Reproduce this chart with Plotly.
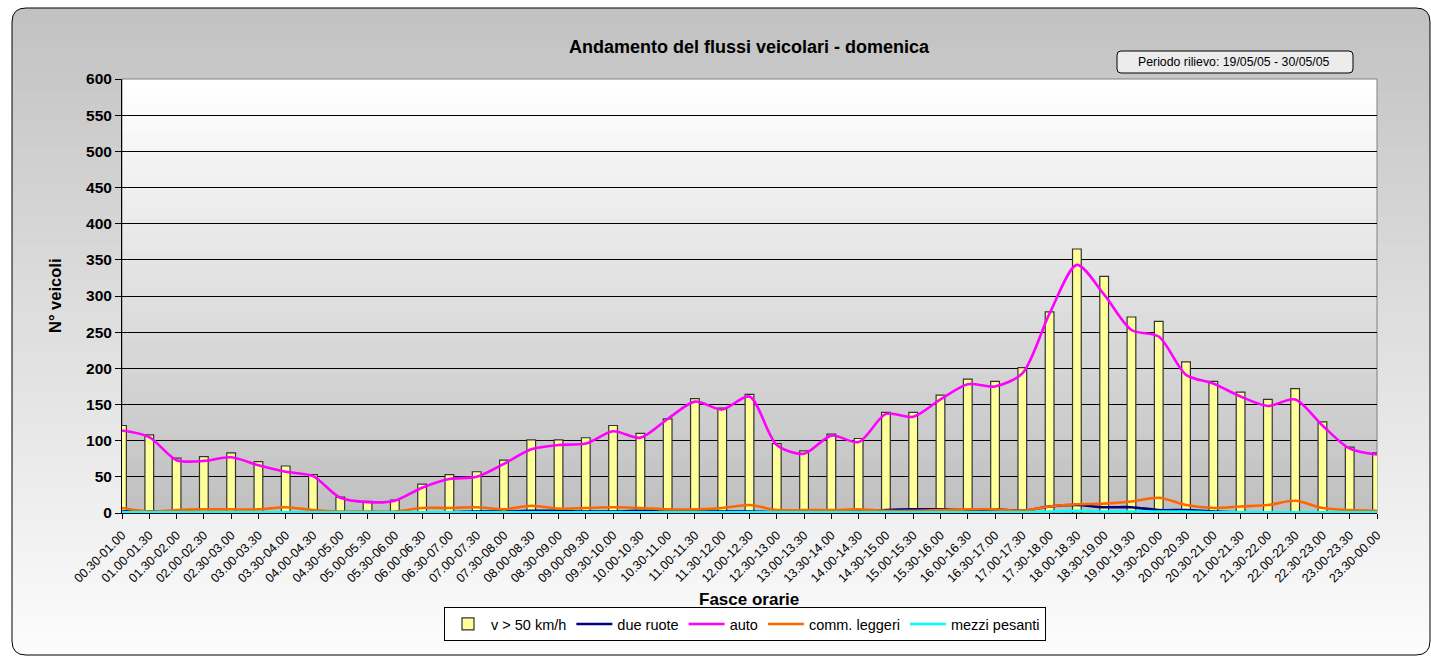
import plotly.graph_objects as go

categories = ["00.30-01.00","01.00-01.30","01.30-02.00","02.00-02.30","02.30-03.00","03.00-03.30",
              "03.30-04.00","04.00-04.30","04.30-05.00","05.00-05.30","05.30-06.00","06.00-06.30",
              "06.30-07.00","07.00-07.30","07.30-08.00","08.00-08.30","08.30-09.00","09.00-09.30",
              "09.30-10.00","10.00-10.30","10.30-11.00","11.00-11.30","11.30-12.00","12.00-12.30",
              "12.30-13.00","13.00-13.30","13.30-14.00","14.00-14.30","14.30-15.00","15.00-15.30",
              "15.30-16.00","16.00-16.30","16.30-17.00","17.00-17.30","17.30-18.00","18.00-18.30",
              "18.30-19.00","19.00-19.30","19.30-20.00","20.00-20.30","20.30-21.00","21.00-21.30",
              "21.30-22.00","22.00-22.30","22.30-23.00","23.00-23.30","23.30-00.00"]

v_over_50 = [121,108,76,78,83,71,65,53,22,16,18,40,53,57,73,101,101,104,121,110,130,158,145,164,
             96,86,109,103,139,139,163,185,182,201,278,365,327,271,265,209,182,167,157,172,126,91,83]
due_ruote = [2,2,1,1,1,1,1,1,0,0,0,1,1,2,2,3,3,2,2,3,2,2,2,2,1,1,1,2,4,5,5,4,5,3,9,11,8,8,4,4,
             2,1,1,1,1,1,1]
auto = [114,105,73,72,77,66,57,51,21,15,17,35,47,50,68,88,94,96,113,104,130,154,143,161,94,82,
        107,98,137,133,157,178,175,193,276,343,302,253,244,191,179,161,148,157,121,89,81]
comm_leggeri = [7,2,4,5,5,5,8,4,2,2,2,7,7,8,5,10,6,7,8,7,5,5,7,11,4,4,4,5,3,3,4,5,5,3,9,12,13,
                16,21,11,7,9,11,17,7,4,3]
mezzi_pesanti = [1,1,1,1,1,1,1,1,1,1,1,1,1,1,1,1,1,1,1,1,1,1,1,1,1,1,1,1,1,1,1,1,1,1,2,3,2,2,
                 2,2,1,1,1,1,1,1,1]

y_ticks = list(range(0, 601, 50))

W, H = 1431, 656
PL, PR, PT, PB = 122, 1377, 79, 513
FONT = "Arial, Liberation Sans, sans-serif"


def px(x):
    return (x - PL) / (PR - PL)


def py(y):
    return (PB - y) / (PB - PT)


def grey(t, c0, c1):
    v = int(round(c0 + (c1 - c0) * t))
    return f"rgb({v},{v},{v})"


shapes = []
# outer chart area gradient (grey top -> white bottom)
ox0, oy0, ox1, oy1 = 12, 8, 1430, 655
N = 60
for i in range(N):
    ya = oy0 + (oy1 - oy0) * i / N
    yb = oy0 + (oy1 - oy0) * (i + 1) / N + 0.6
    shapes.append(dict(type="rect", xref="paper", yref="paper", layer="below",
                       x0=px(ox0), x1=px(ox1), y0=py(yb), y1=py(ya),
                       line=dict(width=0), fillcolor=grey(i / (N - 1), 194, 252)))
# white corner masks
r = 14
corners = [((ox0, oy0), (ox0, oy0 + r), (ox0 + r, oy0)),
           ((ox1, oy0), (ox1 - r, oy0), (ox1, oy0 + r)),
           ((ox0, oy1), (ox0, oy1 - r), (ox0 + r, oy1)),
           ((ox1, oy1), (ox1 - r, oy1), (ox1, oy1 - r))]
for (cx, cy), (ax, ay), (bx, by) in corners:
    path = (f"M {px(ax)},{py(ay)} Q {px(cx)},{py(cy)} {px(bx)},{py(by)} "
            f"L {px(cx)},{py(cy)} Z")
    shapes.append(dict(type="path", xref="paper", yref="paper", layer="below",
                       path=path, fillcolor="white", line=dict(width=0)))
# plot-area gradient (white top -> grey bottom)
M = 50
for i in range(M):
    ya = PT + (PB - PT) * i / M
    yb = PT + (PB - PT) * (i + 1) / M + 0.6
    shapes.append(dict(type="rect", xref="paper", yref="paper", layer="below",
                       x0=0, x1=1, y0=py(min(yb, PB)), y1=py(ya),
                       line=dict(width=0), fillcolor=grey(i / (M - 1), 255, 192)))
# plot-area border
shapes.append(dict(type="rect", xref="paper", yref="paper", layer="below",
                   x0=0, x1=1, y0=0, y1=1, line=dict(color="#808080", width=1)))


def rounded(x0, y0, x1, y1, rr):
    return (f"M {px(x0 + rr)},{py(y0)} L {px(x1 - rr)},{py(y0)} "
            f"Q {px(x1)},{py(y0)} {px(x1)},{py(y0 + rr)} L {px(x1)},{py(y1 - rr)} "
            f"Q {px(x1)},{py(y1)} {px(x1 - rr)},{py(y1)} L {px(x0 + rr)},{py(y1)} "
            f"Q {px(x0)},{py(y1)} {px(x0)},{py(y1 - rr)} L {px(x0)},{py(y0 + rr)} "
            f"Q {px(x0)},{py(y0)} {px(x0 + rr)},{py(y0)} Z")


# outer rounded border
shapes.append(dict(type="path", xref="paper", yref="paper", layer="above",
                   path=rounded(ox0, oy0, ox1, oy1, r), line=dict(color="black", width=1)))
# period box
shapes.append(dict(type="path", xref="paper", yref="paper", layer="above",
                   path=rounded(1117, 51, 1353, 73, 4), fillcolor="#ececec",
                   line=dict(color="black", width=1)))

fig = go.Figure()
fig.add_trace(go.Bar(x=categories, y=v_over_50, name="v > 50 km/h", width=0.32,
                     marker=dict(color="#FFFF99", line=dict(color="#333333", width=1.2))))
line_specs = [("due ruote", due_ruote, "#000080"),
              ("auto", auto, "#FF00FF"),
              ("comm. leggeri", comm_leggeri, "#FF6600"),
              ("mezzi pesanti", mezzi_pesanti, "#00FFFF")]
for name, vals, col in line_specs:
    fig.add_trace(go.Scatter(x=categories, y=vals, name=name, mode="lines",
                             line=dict(color=col, width=2.6, shape="spline", smoothing=0.8)))

fig.update_layout(
    width=W, height=H,
    margin=dict(l=PL, r=W - PR, t=PT, b=H - PB),
    paper_bgcolor="white", plot_bgcolor="rgba(0,0,0,0)",
    font=dict(family=FONT, color="black"),
    title=dict(text="<b>Andamento del flussi veicolari - domenica</b>",
               x=px(749), xref="paper", xanchor="center",
               y=1 - 47 / H, yref="container", yanchor="middle",
               font=dict(size=18, family=FONT, color="black")),
    showlegend=True,
    legend=dict(orientation="h", x=px(745), xanchor="center", y=py(624), yanchor="middle",
                bgcolor="white", bordercolor="black", borderwidth=1,
                font=dict(size=14.5, family=FONT), traceorder="normal",
                itemwidth=36, tracegroupgap=0),
    bargap=0.68,
    shapes=shapes,
    annotations=[
        dict(text="Periodo rilievo: 19/05/05 - 30/05/05", xref="paper", yref="paper",
             x=px(1234), y=py(62), showarrow=False, font=dict(size=12.3, family=FONT),
             xanchor="center", yanchor="middle"),
        dict(text="<b>Fasce orarie</b>", xref="paper", yref="paper",
             x=px(749), y=py(599), showarrow=False, font=dict(size=17, family=FONT),
             xanchor="center", yanchor="middle"),
        dict(text="<b>N° veicoli</b>", xref="paper", yref="paper", textangle=-90,
             x=px(55), y=py(296), showarrow=False, font=dict(size=16.5, family=FONT),
             xanchor="center", yanchor="middle"),
    ],
)

fig.update_xaxes(type="category", range=[0, len(categories) - 1], tickangle=-45,
                 tickfont=dict(size=12.5, family=FONT, color="black"),
                 ticks="outside", ticklen=5, tickcolor="black", showgrid=False,
                 ticklabelstandoff=4,
                 showline=True, linecolor="black", linewidth=1, zeroline=False)
fig.update_yaxes(range=[0, 600], tickvals=y_ticks,
                 tickfont=dict(size=15.5, family=FONT, color="black", weight="bold"),
                 ticks="outside", ticklen=6, tickcolor="black",
                 showgrid=True, gridcolor="black", gridwidth=1,
                 showline=True, linecolor="black", linewidth=1, zeroline=False)

fig.write_html("out.html", post_script="document.body.style.margin='0';",
               config={"displayModeBar": False})
